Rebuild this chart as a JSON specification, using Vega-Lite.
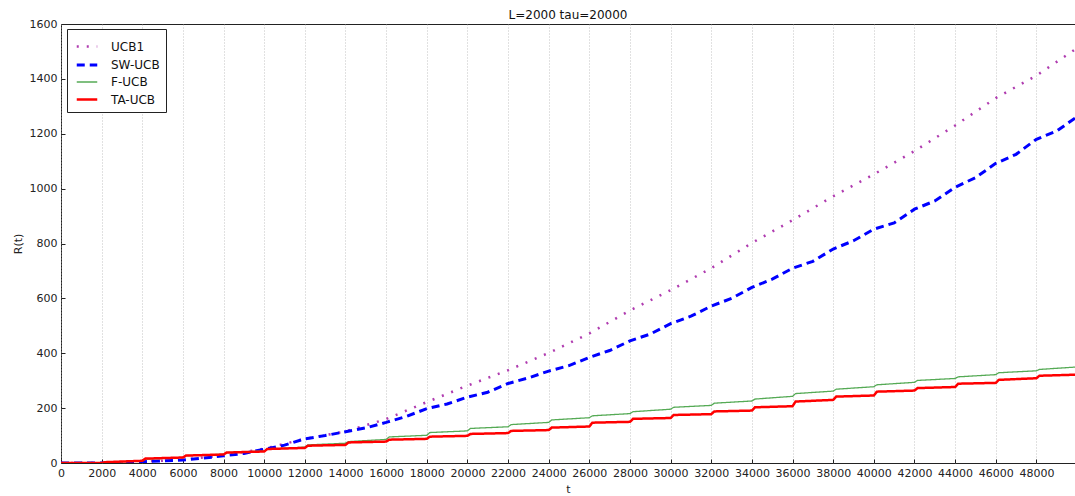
{
  "$schema": "https://vega.github.io/schema/vega-lite/v6.json",
  "autosize": {"type": "none"},
  "padding": {"left": 61, "top": 24, "right": 0, "bottom": 33},
  "width": 1014,
  "height": 439,
  "background": "white",
  "title": {"text": "L=2000 tau=20000", "fontSize": 12, "fontWeight": "normal", "font": "DejaVu Sans", "color": "#111", "offset": -4},
  "config": {
    "view": {"stroke": "#222", "strokeWidth": 1},
    "font": "DejaVu Sans"
  },
  "datasets": {
    "series": [
      {"s": "UCB1", "t": 0, "v": 0}, {"s": "UCB1", "t": 2000, "v": 0}, {"s": "UCB1", "t": 4000, "v": 5}, {"s": "UCB1", "t": 6000, "v": 12},
      {"s": "UCB1", "t": 8000, "v": 28}, {"s": "UCB1", "t": 10000, "v": 52}, {"s": "UCB1", "t": 12000, "v": 88}, {"s": "UCB1", "t": 14000, "v": 115},
      {"s": "UCB1", "t": 16000, "v": 160}, {"s": "UCB1", "t": 18000, "v": 222}, {"s": "UCB1", "t": 20000, "v": 282}, {"s": "UCB1", "t": 22000, "v": 338},
      {"s": "UCB1", "t": 24000, "v": 401}, {"s": "UCB1", "t": 26000, "v": 472}, {"s": "UCB1", "t": 28000, "v": 556}, {"s": "UCB1", "t": 30000, "v": 630},
      {"s": "UCB1", "t": 32000, "v": 710}, {"s": "UCB1", "t": 34000, "v": 802}, {"s": "UCB1", "t": 36000, "v": 885}, {"s": "UCB1", "t": 38000, "v": 972},
      {"s": "UCB1", "t": 40000, "v": 1052}, {"s": "UCB1", "t": 42000, "v": 1137}, {"s": "UCB1", "t": 44000, "v": 1230}, {"s": "UCB1", "t": 46000, "v": 1330},
      {"s": "UCB1", "t": 48000, "v": 1412}, {"s": "UCB1", "t": 50000, "v": 1512},

      {"s": "SW-UCB", "t": 0, "v": 0}, {"s": "SW-UCB", "t": 2000, "v": 0}, {"s": "SW-UCB", "t": 3000, "v": 2}, {"s": "SW-UCB", "t": 4000, "v": 5},
      {"s": "SW-UCB", "t": 5000, "v": 8}, {"s": "SW-UCB", "t": 6000, "v": 11}, {"s": "SW-UCB", "t": 7000, "v": 18}, {"s": "SW-UCB", "t": 8000, "v": 26},
      {"s": "SW-UCB", "t": 9000, "v": 35}, {"s": "SW-UCB", "t": 10000, "v": 50}, {"s": "SW-UCB", "t": 11000, "v": 65}, {"s": "SW-UCB", "t": 12000, "v": 88},
      {"s": "SW-UCB", "t": 13000, "v": 100}, {"s": "SW-UCB", "t": 14000, "v": 114}, {"s": "SW-UCB", "t": 15000, "v": 128}, {"s": "SW-UCB", "t": 16000, "v": 148},
      {"s": "SW-UCB", "t": 17000, "v": 170}, {"s": "SW-UCB", "t": 18000, "v": 198}, {"s": "SW-UCB", "t": 19000, "v": 215}, {"s": "SW-UCB", "t": 20000, "v": 240},
      {"s": "SW-UCB", "t": 21000, "v": 258}, {"s": "SW-UCB", "t": 22000, "v": 290}, {"s": "SW-UCB", "t": 23000, "v": 310}, {"s": "SW-UCB", "t": 24000, "v": 335},
      {"s": "SW-UCB", "t": 25000, "v": 355}, {"s": "SW-UCB", "t": 26000, "v": 385}, {"s": "SW-UCB", "t": 27000, "v": 410}, {"s": "SW-UCB", "t": 28000, "v": 445},
      {"s": "SW-UCB", "t": 29000, "v": 470}, {"s": "SW-UCB", "t": 30000, "v": 508}, {"s": "SW-UCB", "t": 31000, "v": 535}, {"s": "SW-UCB", "t": 32000, "v": 572},
      {"s": "SW-UCB", "t": 33000, "v": 600}, {"s": "SW-UCB", "t": 34000, "v": 640}, {"s": "SW-UCB", "t": 35000, "v": 670}, {"s": "SW-UCB", "t": 36000, "v": 710},
      {"s": "SW-UCB", "t": 37000, "v": 735}, {"s": "SW-UCB", "t": 38000, "v": 780}, {"s": "SW-UCB", "t": 39000, "v": 810}, {"s": "SW-UCB", "t": 40000, "v": 852},
      {"s": "SW-UCB", "t": 41000, "v": 875}, {"s": "SW-UCB", "t": 42000, "v": 925}, {"s": "SW-UCB", "t": 43000, "v": 955}, {"s": "SW-UCB", "t": 44000, "v": 1005},
      {"s": "SW-UCB", "t": 45000, "v": 1040}, {"s": "SW-UCB", "t": 46000, "v": 1092}, {"s": "SW-UCB", "t": 47000, "v": 1125}, {"s": "SW-UCB", "t": 48000, "v": 1180},
      {"s": "SW-UCB", "t": 49000, "v": 1210}, {"s": "SW-UCB", "t": 50000, "v": 1262},

      {"s": "F-UCB", "t": 0, "v": 0}, {"s": "F-UCB", "t": 2000, "v": 0}, {"s": "F-UCB", "t": 2150, "v": 2}, {"s": "F-UCB", "t": 4000, "v": 8}, {"s": "F-UCB", "t": 4150, "v": 14},
      {"s": "F-UCB", "t": 6000, "v": 20}, {"s": "F-UCB", "t": 6150, "v": 27}, {"s": "F-UCB", "t": 8000, "v": 32}, {"s": "F-UCB", "t": 8150, "v": 38},
      {"s": "F-UCB", "t": 10000, "v": 44}, {"s": "F-UCB", "t": 10150, "v": 50}, {"s": "F-UCB", "t": 12000, "v": 58}, {"s": "F-UCB", "t": 12150, "v": 66},
      {"s": "F-UCB", "t": 14000, "v": 72}, {"s": "F-UCB", "t": 14150, "v": 78}, {"s": "F-UCB", "t": 16000, "v": 86}, {"s": "F-UCB", "t": 16150, "v": 95},
      {"s": "F-UCB", "t": 18000, "v": 101}, {"s": "F-UCB", "t": 18150, "v": 111}, {"s": "F-UCB", "t": 20000, "v": 117}, {"s": "F-UCB", "t": 20150, "v": 126},
      {"s": "F-UCB", "t": 22000, "v": 132}, {"s": "F-UCB", "t": 22150, "v": 140}, {"s": "F-UCB", "t": 24000, "v": 148}, {"s": "F-UCB", "t": 24150, "v": 157},
      {"s": "F-UCB", "t": 26000, "v": 165}, {"s": "F-UCB", "t": 26150, "v": 172}, {"s": "F-UCB", "t": 28000, "v": 180}, {"s": "F-UCB", "t": 28150, "v": 187},
      {"s": "F-UCB", "t": 30000, "v": 196}, {"s": "F-UCB", "t": 30150, "v": 203}, {"s": "F-UCB", "t": 32000, "v": 210}, {"s": "F-UCB", "t": 32150, "v": 218},
      {"s": "F-UCB", "t": 34000, "v": 226}, {"s": "F-UCB", "t": 34150, "v": 233}, {"s": "F-UCB", "t": 36000, "v": 243}, {"s": "F-UCB", "t": 36150, "v": 253},
      {"s": "F-UCB", "t": 38000, "v": 262}, {"s": "F-UCB", "t": 38150, "v": 269}, {"s": "F-UCB", "t": 40000, "v": 278}, {"s": "F-UCB", "t": 40150, "v": 285},
      {"s": "F-UCB", "t": 42000, "v": 294}, {"s": "F-UCB", "t": 42150, "v": 301}, {"s": "F-UCB", "t": 44000, "v": 308}, {"s": "F-UCB", "t": 44150, "v": 314},
      {"s": "F-UCB", "t": 46000, "v": 322}, {"s": "F-UCB", "t": 46150, "v": 329}, {"s": "F-UCB", "t": 48000, "v": 336}, {"s": "F-UCB", "t": 48150, "v": 341},
      {"s": "F-UCB", "t": 50000, "v": 350},

      {"s": "TA-UCB", "t": 0, "v": 0}, {"s": "TA-UCB", "t": 2000, "v": 0}, {"s": "TA-UCB", "t": 2150, "v": 3}, {"s": "TA-UCB", "t": 4000, "v": 8}, {"s": "TA-UCB", "t": 4150, "v": 16},
      {"s": "TA-UCB", "t": 6000, "v": 20}, {"s": "TA-UCB", "t": 6150, "v": 27}, {"s": "TA-UCB", "t": 8000, "v": 31}, {"s": "TA-UCB", "t": 8150, "v": 38},
      {"s": "TA-UCB", "t": 10000, "v": 42}, {"s": "TA-UCB", "t": 10150, "v": 51}, {"s": "TA-UCB", "t": 12000, "v": 55}, {"s": "TA-UCB", "t": 12150, "v": 63},
      {"s": "TA-UCB", "t": 14000, "v": 66}, {"s": "TA-UCB", "t": 14150, "v": 75}, {"s": "TA-UCB", "t": 16000, "v": 78}, {"s": "TA-UCB", "t": 16150, "v": 85},
      {"s": "TA-UCB", "t": 18000, "v": 88}, {"s": "TA-UCB", "t": 18150, "v": 96}, {"s": "TA-UCB", "t": 20000, "v": 99}, {"s": "TA-UCB", "t": 20150, "v": 106},
      {"s": "TA-UCB", "t": 22000, "v": 109}, {"s": "TA-UCB", "t": 22150, "v": 117}, {"s": "TA-UCB", "t": 24000, "v": 120}, {"s": "TA-UCB", "t": 24150, "v": 129},
      {"s": "TA-UCB", "t": 26000, "v": 133}, {"s": "TA-UCB", "t": 26150, "v": 147}, {"s": "TA-UCB", "t": 28000, "v": 150}, {"s": "TA-UCB", "t": 28150, "v": 161},
      {"s": "TA-UCB", "t": 30000, "v": 164}, {"s": "TA-UCB", "t": 30150, "v": 175}, {"s": "TA-UCB", "t": 32000, "v": 178}, {"s": "TA-UCB", "t": 32150, "v": 188},
      {"s": "TA-UCB", "t": 34000, "v": 191}, {"s": "TA-UCB", "t": 34150, "v": 203}, {"s": "TA-UCB", "t": 36000, "v": 207}, {"s": "TA-UCB", "t": 36150, "v": 224},
      {"s": "TA-UCB", "t": 38000, "v": 230}, {"s": "TA-UCB", "t": 38150, "v": 242}, {"s": "TA-UCB", "t": 40000, "v": 246}, {"s": "TA-UCB", "t": 40150, "v": 260},
      {"s": "TA-UCB", "t": 42000, "v": 264}, {"s": "TA-UCB", "t": 42150, "v": 273}, {"s": "TA-UCB", "t": 44000, "v": 277}, {"s": "TA-UCB", "t": 44150, "v": 289},
      {"s": "TA-UCB", "t": 46000, "v": 292}, {"s": "TA-UCB", "t": 46150, "v": 303}, {"s": "TA-UCB", "t": 48000, "v": 309}, {"s": "TA-UCB", "t": 48150, "v": 318},
      {"s": "TA-UCB", "t": 50000, "v": 322}
    ]
  },
  "data": {"name": "series"},
  "mark": {"type": "line", "clip": true},
  "encoding": {
    "x": {
      "field": "t", "type": "quantitative",
      "scale": {"domain": [0, 49900], "nice": false, "zero": true},
      "axis": {
        "title": "t", "values": [0,2000,4000,6000,8000,10000,12000,14000,16000,18000,20000,22000,24000,26000,28000,30000,32000,34000,36000,38000,40000,42000,44000,46000,48000],
        "format": "d", "grid": true, "gridColor": "#aaaaaa", "gridDash": [1, 2], "gridOpacity": 0.7,
        "domain": false, "tickSize": -4, "tickColor": "#222", "labelPadding": 8,
        "labelFontSize": 11, "labelColor": "#222", "labelFlush": false,
        "titleFontSize": 11, "titleFontWeight": "normal", "titleColor": "#222", "titlePadding": 5
      }
    },
    "y": {
      "field": "v", "type": "quantitative",
      "scale": {"domain": [0, 1600], "nice": false},
      "axis": {
        "title": "R(t)", "values": [0,200,400,600,800,1000,1200,1400,1600], "format": "d",
        "grid": false, "domain": false, "tickSize": -4, "tickColor": "#222", "labelPadding": 8,
        "labelFontSize": 11, "labelColor": "#222",
        "titleFontSize": 11, "titleFontWeight": "normal", "titleColor": "#222", "titlePadding": 6
      }
    },
    "color": {
      "field": "s", "type": "nominal",
      "scale": {"domain": ["UCB1", "SW-UCB", "F-UCB", "TA-UCB"], "range": ["#b03cb0", "#0000ff", "#55aa55", "#ff0000"]},
      "legend": {
        "title": null, "orient": "none", "legendX": 6, "legendY": 5,
        "symbolType": "stroke", "symbolSize": 420, "symbolOffset": 2,
        "labelFontSize": 12, "labelColor": "#111", "rowPadding": 0,
        "strokeColor": "#222", "fillColor": "white", "padding": 6, "labelOffset": 12
      }
    },
    "strokeDash": {
      "field": "s", "type": "nominal",
      "scale": {"domain": ["UCB1", "SW-UCB", "F-UCB", "TA-UCB"], "range": [[2, 8], [8, 5], [1, 0], [1, 0]]}
    },
    "strokeWidth": {
      "field": "s", "type": "nominal",
      "scale": {"type": "ordinal", "domain": ["UCB1", "SW-UCB", "F-UCB", "TA-UCB"], "range": [2.5, 3, 1.3, 2.5]}
    }
  }
}
